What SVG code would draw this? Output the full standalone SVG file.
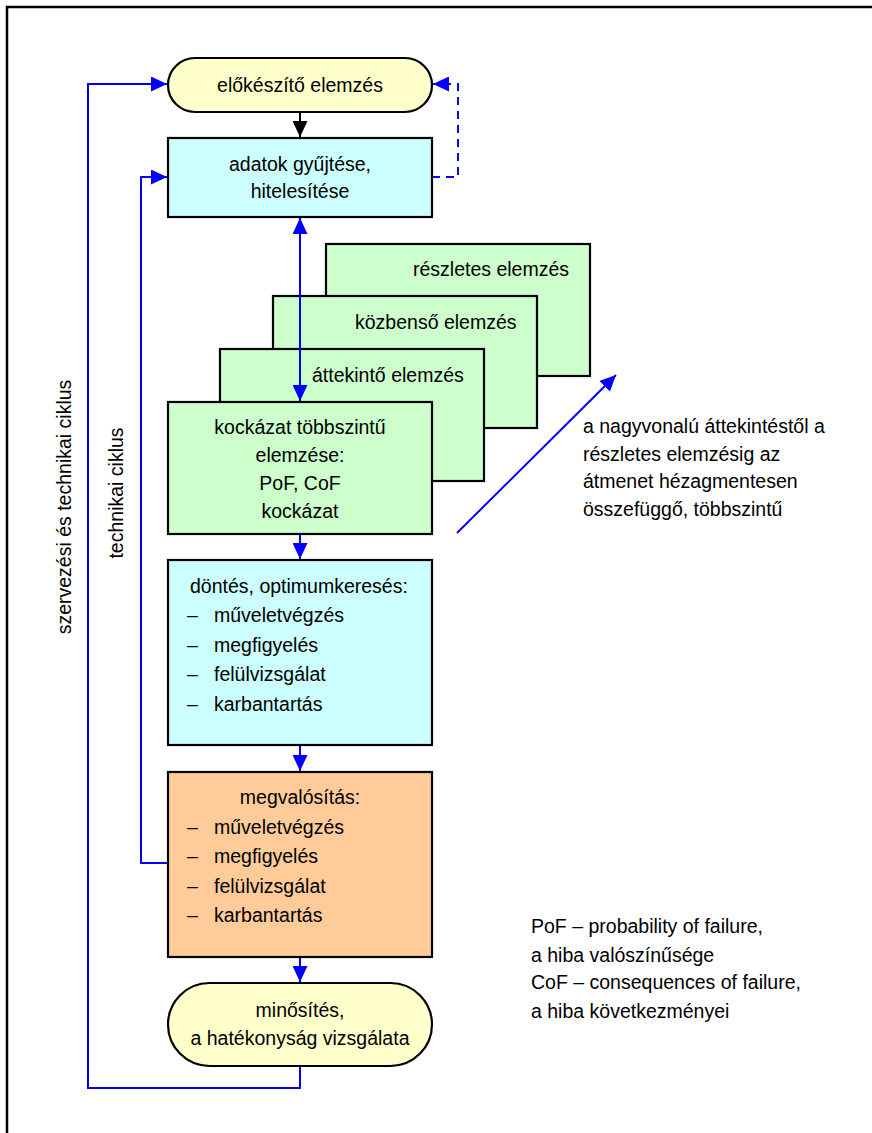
<svg xmlns="http://www.w3.org/2000/svg" width="872" height="1133" viewBox="0 0 872 1133">
  <defs>
    <style>
      text { font-family: "Liberation Sans", Arial, sans-serif; font-size: 19.5px; fill: #000; }
      .c { text-anchor: middle; }
      .box { stroke: #000; stroke-width: 2.2; }
      .term { fill: #FFFFCC; }
      .cyan { fill: #CCFFFF; }
      .green { fill: #CCFFCC; }
      .orange { fill: #FFCC99; }
      .link { fill: none; stroke: #0000FF; stroke-width: 2; }
      .dash { stroke-dasharray: 8 6; }
    </style>
    <marker id="arrBlue" markerUnits="userSpaceOnUse" markerWidth="16" markerHeight="15" refX="16" refY="7.5" orient="auto-start-reverse">
      <path d="M0,0 L16,7.5 L0,15 z" fill="#0000FF"/>
    </marker>
    <marker id="arrBlack" markerUnits="userSpaceOnUse" markerWidth="16" markerHeight="15" refX="16" refY="7.5" orient="auto">
      <path d="M0,0 L16,7.5 L0,15 z" fill="#000"/>
    </marker>
  </defs>

  <!-- page frame -->
  <rect x="7" y="7" width="900" height="1200" fill="#fff" stroke="#000" stroke-width="2.5"/>

  <!-- stacked analysis levels (back to front) -->
  <g id="reszletes">
    <rect class="box green" x="326" y="244" width="264" height="132"/>
    <text x="413" y="276">részletes elemzés</text>
  </g>
  <g id="kozbenso">
    <rect class="box green" x="273" y="296" width="264" height="132"/>
    <text x="355" y="329">közbenső elemzés</text>
  </g>
  <g id="attekinto">
    <rect class="box green" x="220" y="349" width="264" height="132"/>
    <text x="312" y="382">áttekintő elemzés</text>
  </g>

  <!-- connectors -->
  <g id="connectors">
    <line x1="300" y1="112" x2="300" y2="137" stroke="#000" stroke-width="2" marker-end="url(#arrBlack)"/>
    <polyline class="link dash" points="432,177 458,177 458,84 433,84" marker-end="url(#arrBlue)"/>
    <line class="link" x1="300" y1="218" x2="300" y2="401" marker-start="url(#arrBlue)" marker-end="url(#arrBlue)"/>
    <line class="link" x1="300" y1="534" x2="300" y2="559" marker-end="url(#arrBlue)"/>
    <line class="link" x1="300" y1="745" x2="300" y2="771" marker-end="url(#arrBlue)"/>
    <line class="link" x1="300" y1="957" x2="300" y2="982" marker-end="url(#arrBlue)"/>
    <!-- organisational and technical cycle -->
    <polyline class="link" points="300,1066 300,1088 88,1088 88,84 167,84" marker-end="url(#arrBlue)"/>
    <!-- technical cycle -->
    <polyline class="link" points="168,863 141,863 141,177 167,177" marker-end="url(#arrBlue)"/>
    <!-- level progression -->
    <line class="link" x1="457" y1="533" x2="616" y2="375" marker-end="url(#arrBlue)"/>
  </g>

  <g id="elokeszito">
    <rect class="box term" x="168" y="58" width="264" height="54" rx="27"/>
    <text class="c" x="300" y="92">előkészítő elemzés</text>
  </g>

  <g id="adatok">
    <rect class="box cyan" x="168" y="138" width="264" height="79"/>
    <text class="c" x="300" y="171">adatok gyűjtése,</text>
    <text class="c" x="300" y="198">hitelesítése</text>
  </g>

  <g id="kockazat">
    <rect class="box green" x="168" y="402" width="264" height="132"/>
    <text class="c" x="300" y="434">kockázat többszintű</text>
    <text class="c" x="300" y="462">elemzése:</text>
    <text class="c" x="300" y="490">PoF, CoF</text>
    <text class="c" x="300" y="518">kockázat</text>
  </g>

  <g id="dontes">
    <rect class="box cyan" x="168" y="560" width="264" height="185"/>
    <text x="190" y="593">döntés, optimumkeresés:</text>
    <text x="187" y="622">–</text><text x="214" y="622">műveletvégzés</text>
    <text x="187" y="652">–</text><text x="214" y="652">megfigyelés</text>
    <text x="187" y="681">–</text><text x="214" y="681">felülvizsgálat</text>
    <text x="187" y="711">–</text><text x="214" y="711">karbantartás</text>
  </g>

  <g id="megvalositas">
    <rect class="box orange" x="168" y="772" width="264" height="185"/>
    <text class="c" x="300" y="804">megvalósítás:</text>
    <text x="187" y="834">–</text><text x="214" y="834">műveletvégzés</text>
    <text x="187" y="863">–</text><text x="214" y="863">megfigyelés</text>
    <text x="187" y="893">–</text><text x="214" y="893">felülvizsgálat</text>
    <text x="187" y="922">–</text><text x="214" y="922">karbantartás</text>
  </g>

  <g id="minosites">
    <rect class="box term" x="168" y="983" width="264" height="83" rx="41.5"/>
    <text class="c" x="300" y="1017">minősítés,</text>
    <text class="c" x="300" y="1045">a hatékonyság vizsgálata</text>
  </g>

  <!-- cycle labels -->
  <text class="c" transform="translate(71,507) rotate(-90)">szervezési és technikai ciklus</text>
  <text class="c" transform="translate(123,493) rotate(-90)">technikai ciklus</text>

  <!-- notes -->
  <g id="note-levels">
    <text x="583" y="433">a nagyvonalú áttekintéstől a</text>
    <text x="583" y="461">részletes elemzésig az</text>
    <text x="583" y="488">átmenet hézagmentesen</text>
    <text x="583" y="516">összefüggő, többszintű</text>
  </g>
  <g id="note-abbrev">
    <text x="531" y="933">PoF – probability of failure,</text>
    <text x="531" y="962">a hiba valószínűsége</text>
    <text x="531" y="989">CoF – consequences of failure,</text>
    <text x="531" y="1018">a hiba következményei</text>
  </g>
</svg>
